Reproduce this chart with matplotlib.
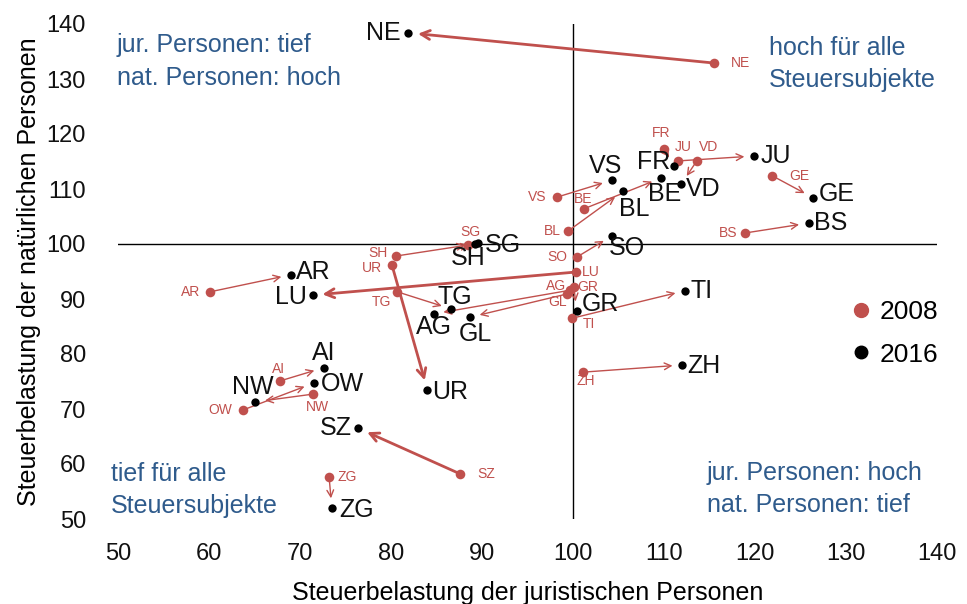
import matplotlib
matplotlib.use("Agg")
import matplotlib.pyplot as plt
from matplotlib.lines import Line2D

plt.rcParams['font.family'] = ['Liberation Sans', 'DejaVu Sans']

cantons = ["NE", "JU", "VS", "FR", "BE", "VD", "BL", "GE", "BS", "SO", "SG", "SH",
           "AR", "LU", "TG", "AG", "GL", "GR", "TI", "ZH", "UR", "AI", "OW", "NW", "SZ", "ZG"]

jur_2016 = [81.9, 119.9, 104.3, 111.1, 109.7, 111.9, 105.5, 126.4, 125.9, 104.3, 89.6, 89.2,
            69.0, 71.4, 86.6, 84.7, 88.7, 100.4, 112.3, 112.0, 84.0, 72.6, 71.5, 65.1, 76.4, 73.5]
nat_2016 = [138.4, 116.0, 111.6, 114.2, 112.0, 110.9, 109.6, 108.4, 103.8, 101.5, 100.2, 100.0,
            94.4, 90.7, 88.2, 87.3, 86.7, 87.8, 91.5, 78.0, 73.5, 77.5, 74.7, 71.3, 66.5, 52.0]

jur_2008 = [115.5, 111.5, 98.2, 110.0, 101.2, 113.6, 99.5, 121.9, 118.9, 100.4, 88.5, 80.5,
            60.1, 100.3, 80.7, 99.7, 99.3, 100.1, 99.9, 101.1, 80.1, 67.8, 63.7, 71.4, 87.6, 73.2]
nat_2008 = [132.9, 115.1, 108.5, 117.3, 106.4, 115.1, 102.4, 112.4, 102.0, 97.6, 99.8, 97.8,
            91.3, 94.9, 91.3, 91.6, 90.9, 92.2, 86.5, 76.7, 96.2, 75.1, 69.8, 72.7, 58.2, 57.6]

x_ticks = [50, 60, 70, 80, 90, 100, 110, 120, 130, 140]
y_ticks = [50, 60, 70, 80, 90, 100, 110, 120, 130, 140]

thick = {"NE", "LU", "UR", "SZ"}

RED = "#c0504d"
BLUE = "#2f5b8c"
W, H = 967, 604

# label offsets (pixels) and alignment
lab16 = {
    "NE": (-8, 0, "right"), "JU": (6, 0, "left"), "VS": (-7, 14, "center"),
    "FR": (-4, 4, "right"), "BE": (3, -16, "center"), "VD": (5, -5, "left"),
    "BL": (11, -18, "center"), "GE": (6, 4, "left"), "BS": (5, 0, "left"),
    "SO": (-3, -12, "left"), "SG": (6, -2, "left"), "SH": (-7, -14, "center"),
    "AR": (5, 3, "left"), "LU": (-6, -2, "right"), "TG": (4, 12, "center"),
    "AG": (0, -13, "center"), "GL": (5, -17, "center"), "GR": (5, 7, "left"),
    "TI": (6, 0, "left"), "ZH": (5, -1, "left"), "UR": (5, -2, "left"),
    "AI": (0, 15, "center"), "OW": (7, -1, "left"), "NW": (-3, 15, "center"),
    "SZ": (-6, 0, "right"), "ZG": (7, -2, "left"),
}
lab08 = {
    "NE": (17, 0, "left"), "FR": (-3, 16, "center"), "JU": (6, 14, "center"),
    "VD": (12, 14, "center"), "GE": (17, 0, "left"), "VS": (-10, 0, "right"),
    "BE": (-1, 10, "center"), "BL": (-8, 0, "right"), "BS": (-8, 0, "right"),
    "SG": (2, 13, "center"), "SH": (-8, 3, "right"), "UR": (-10, -3, "right"),
    "SO": (-9, 0, "right"), "LU": (6, 0, "left"), "AR": (-10, 0, "right"),
    "TG": (-16, -10, "center"), "AG": (-14, 4, "center"), "GR": (14, 0, "center"),
    "GL": (-9, -8, "center"), "TI": (17, -6, "center"), "ZH": (3, -9, "center"),
    "AI": (-1, 12, "center"), "NW": (5, -13, "center"), "OW": (-10, 0, "right"),
    "SZ": (17, 0, "left"), "ZG": (8, 0, "left"),
}

fig = plt.figure(figsize=(W / 100, H / 100), dpi=100)
ax = fig.add_axes([118 / W, 85 / H, 819 / W, 495 / H])
ax.set_xlim(50, 140)
ax.set_ylim(50, 140)
for s in ax.spines.values():
    s.set_visible(False)
ax.set_xticks(x_ticks)
ax.set_yticks(y_ticks)
ax.tick_params(axis='x', length=0, labelsize=17, pad=17, colors='#111111')
ax.tick_params(axis='y', length=0, labelsize=17, pad=23, colors='#111111')

ax.axvline(100, color="black", lw=1, zorder=1)
ax.axhline(100, color="black", lw=1, zorder=1)

for c, x0, y0, x1, y1 in zip(cantons, jur_2008, nat_2008, jur_2016, nat_2016):
    lw = 2.0 if c in thick else 1.0
    ms = 16 if c in thick else 12
    ax.annotate("", xy=(x1, y1), xytext=(x0, y0),
                arrowprops=dict(arrowstyle="->", color=RED, lw=lw, shrinkA=0,
                                shrinkB=7, mutation_scale=ms), zorder=2)

ax.scatter(jur_2008, nat_2008, s=48, color=RED, zorder=3, linewidths=0)
ax.scatter(jur_2016, nat_2016, s=36, color="black", zorder=4, linewidths=0)

for c, x, y in zip(cantons, jur_2016, nat_2016):
    dx, dy, ha = lab16[c]
    ax.annotate(c, (x, y), xytext=(dx, dy), textcoords="offset pixels",
                ha=ha, va="center", fontsize=18, color="#111111", zorder=5)
for c, x, y in zip(cantons, jur_2008, nat_2008):
    dx, dy, ha = lab08[c]
    ax.annotate(c, (x, y), xytext=(dx, dy), textcoords="offset pixels",
                ha=ha, va="center", fontsize=10, color=RED, zorder=5)

quad = [
    (117, 52, "jur. Personen: tief"), (117, 85, "nat. Personen: hoch"),
    (769, 55, "hoch für alle"), (769, 87, "Steuersubjekte"),
    (111, 481, "tief für alle"), (111, 513, "Steuersubjekte"),
    (707, 480, "jur. Personen: hoch"), (707, 512, "nat. Personen: tief"),
]
for px, py, txt in quad:
    fig.text(px / W, 1 - py / H, txt, ha="left", va="baseline", color=BLUE, fontsize=18)

handles = [Line2D([], [], marker="o", ls="", color=RED, markersize=10),
           Line2D([], [], marker="o", ls="", color="black", markersize=9)]
leg = ax.legend(handles, ["2008", "2016"], loc="center left", bbox_to_anchor=(0.865, 0.375),
                frameon=False, fontsize=19, handlelength=0.8, handletextpad=0.3,
                labelspacing=0.7)

ax.set_xlabel("Steuerbelastung der juristischen Personen", fontsize=18, labelpad=12)
ax.set_ylabel("Steuerbelastung der natürlichen Personen", fontsize=18, labelpad=4)

fig.savefig("out.png", dpi=100)
